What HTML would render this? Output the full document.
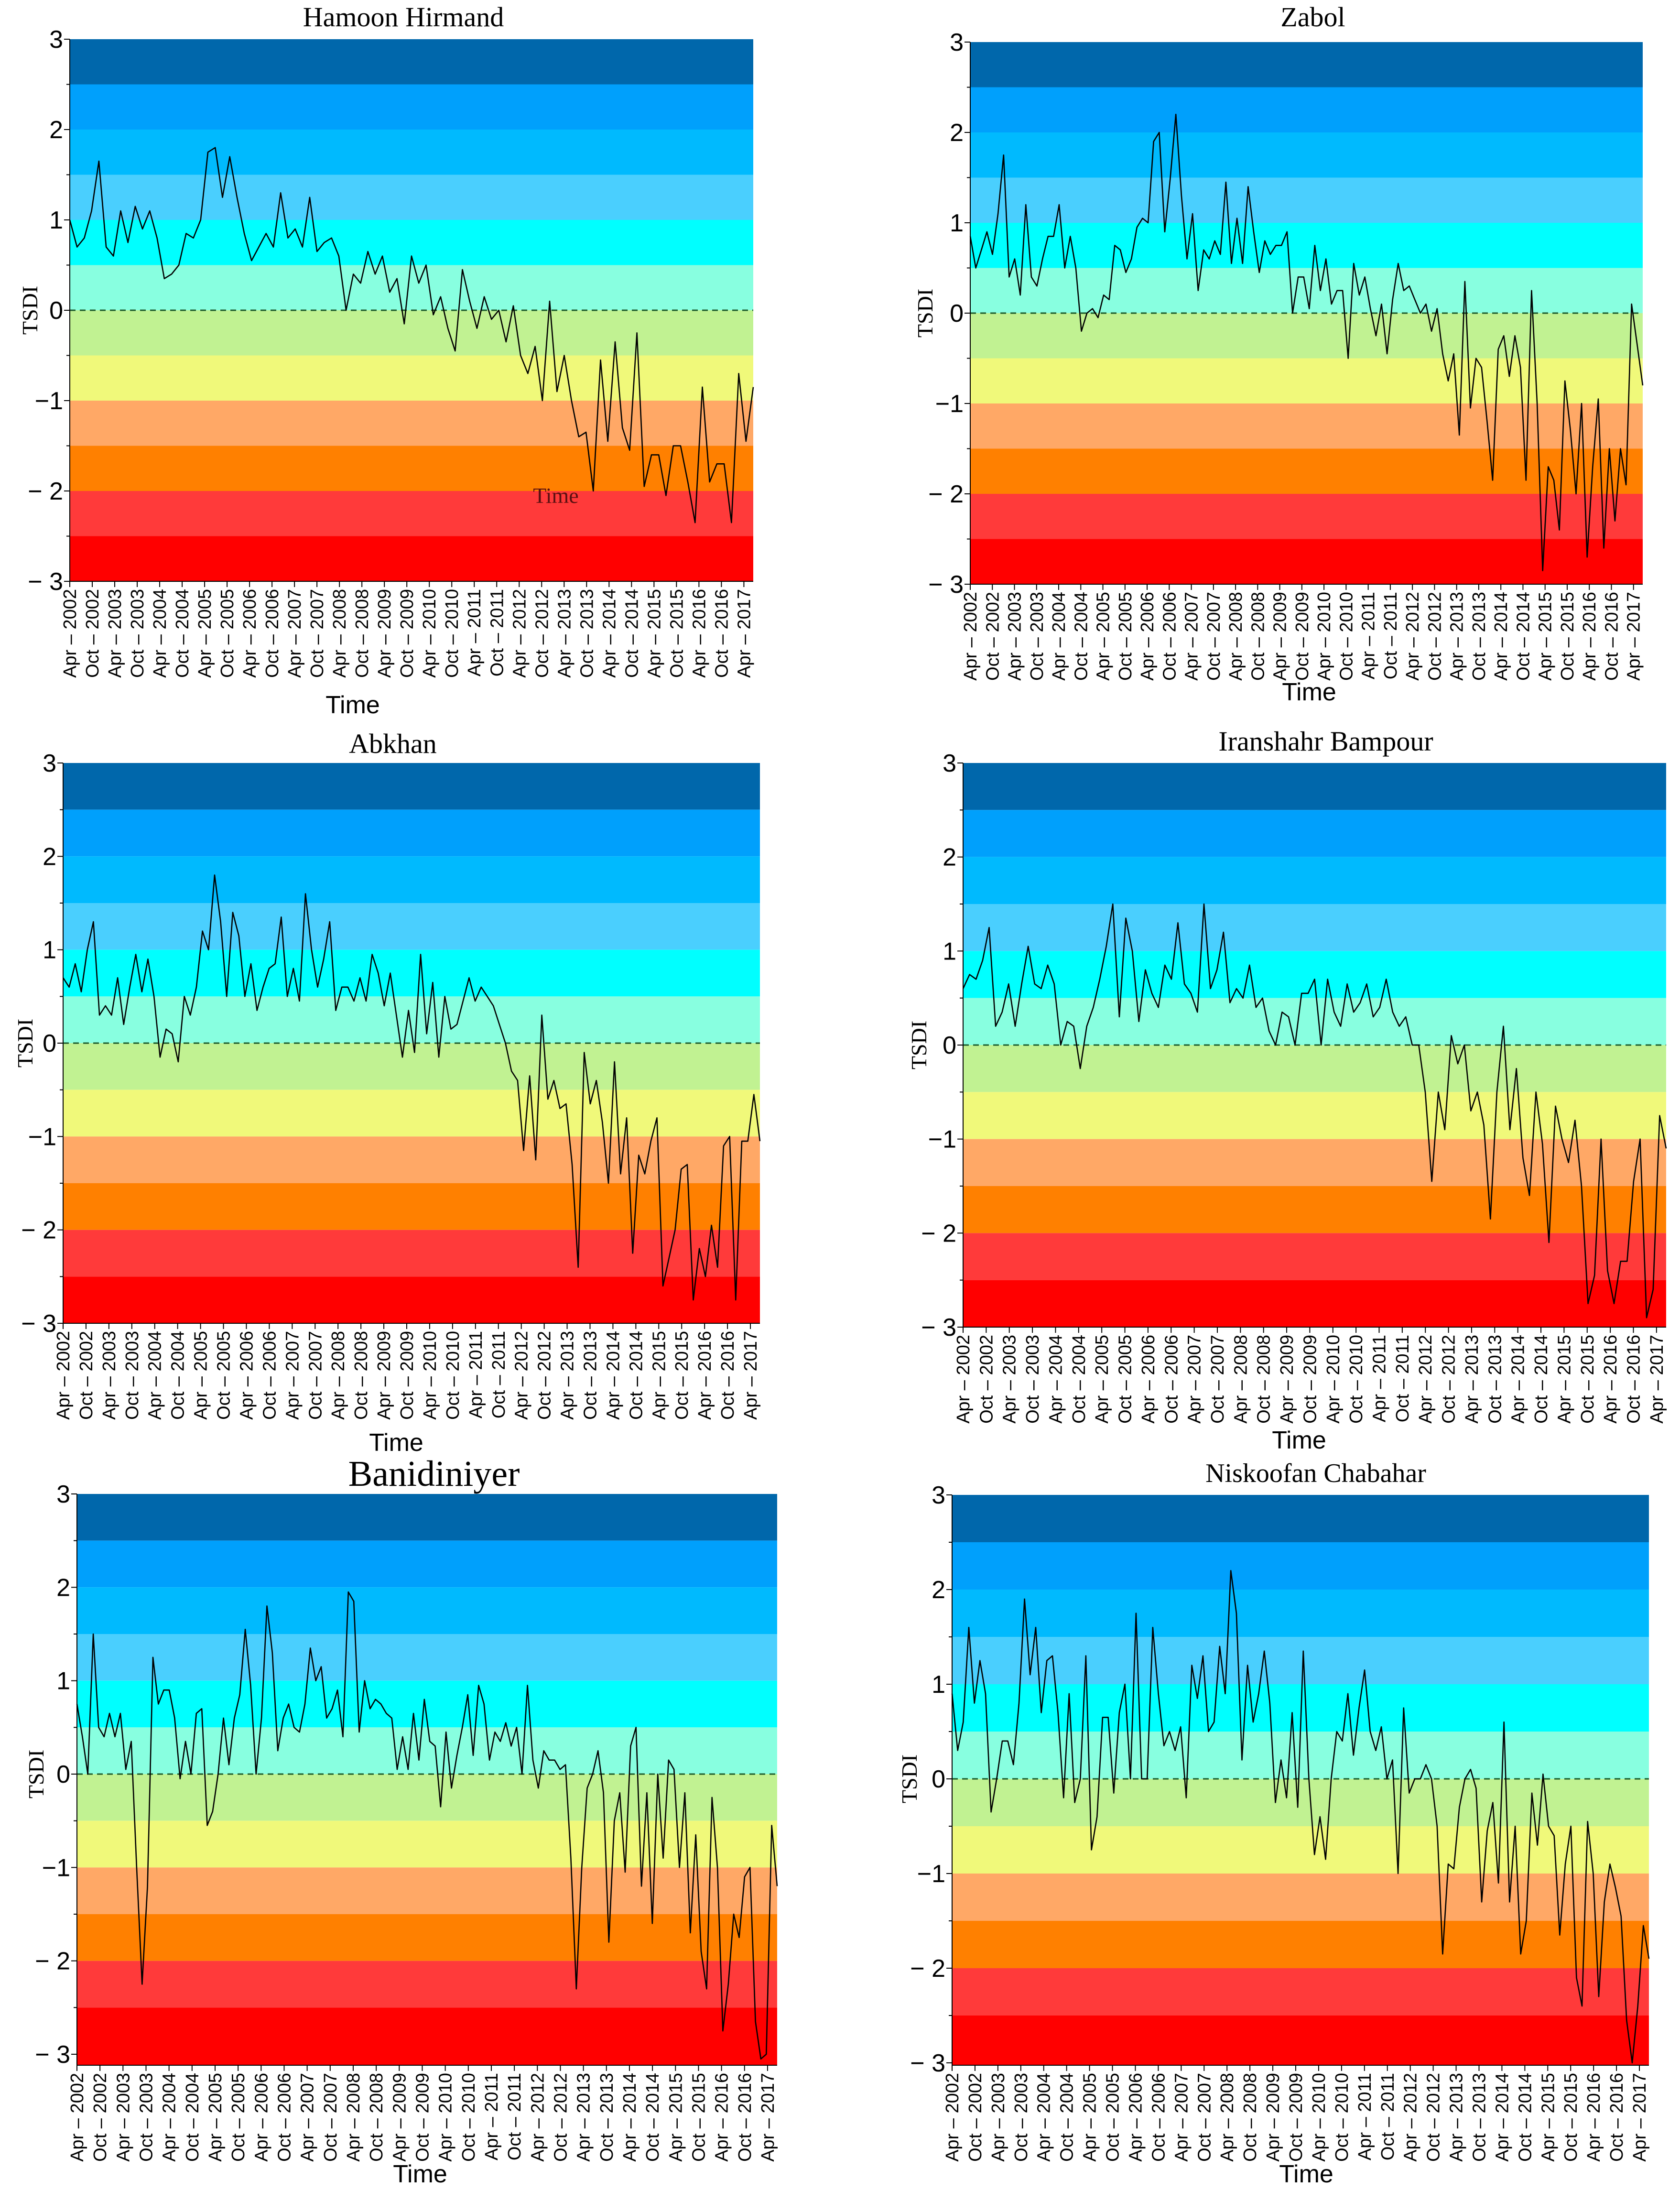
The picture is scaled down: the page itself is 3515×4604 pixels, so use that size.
<!DOCTYPE html>
<html><head><meta charset="utf-8"><style>
html,body{margin:0;padding:0;background:#fff;}
svg{display:block;}
</style></head><body>
<svg id="fig" xmlns="http://www.w3.org/2000/svg" width="3515" height="4604" viewBox="0 0 3515 4604"></svg>
<script>
const seriesHamoon=[1.0,0.7,0.8,1.1,1.65,0.7,0.6,1.1,0.75,1.15,0.9,1.1,0.8,0.35,0.4,0.5,0.85,0.8,1.0,1.75,1.8,1.25,1.7,1.25,0.85,0.55,0.7,0.85,0.7,1.3,0.8,0.9,0.7,1.25,0.65,0.75,0.8,0.6,0.0,0.4,0.3,0.65,0.4,0.6,0.2,0.35,-0.15,0.6,0.3,0.5,-0.05,0.15,-0.2,-0.45,0.45,0.1,-0.2,0.15,-0.1,0.0,-0.35,0.05,-0.5,-0.7,-0.4,-1.0,0.1,-0.9,-0.5,-1.0,-1.4,-1.35,-2.0,-0.55,-1.45,-0.35,-1.3,-1.55,-0.25,-1.95,-1.6,-1.6,-2.05,-1.5,-1.5,-1.9,-2.35,-0.85,-1.9,-1.7,-1.7,-2.35,-0.7,-1.45,-0.85];
const seriesZabol=[0.85,0.5,0.7,0.9,0.65,1.1,1.75,0.4,0.6,0.2,1.2,0.4,0.3,0.6,0.85,0.85,1.2,0.5,0.85,0.5,-0.2,0.0,0.05,-0.05,0.2,0.15,0.75,0.7,0.45,0.6,0.95,1.05,1.0,1.9,2.0,0.9,1.5,2.2,1.3,0.6,1.1,0.25,0.7,0.6,0.8,0.65,1.45,0.55,1.05,0.55,1.4,0.9,0.45,0.8,0.65,0.75,0.75,0.9,0.0,0.4,0.4,0.05,0.75,0.25,0.6,0.1,0.25,0.25,-0.5,0.55,0.2,0.4,0.05,-0.25,0.1,-0.45,0.15,0.55,0.25,0.3,0.15,0.0,0.1,-0.2,0.05,-0.45,-0.75,-0.45,-1.35,0.35,-1.05,-0.5,-0.6,-1.2,-1.85,-0.4,-0.25,-0.7,-0.25,-0.6,-1.85,0.25,-1.0,-2.85,-1.7,-1.85,-2.4,-0.75,-1.3,-2.0,-1.0,-2.7,-1.7,-0.95,-2.6,-1.5,-2.3,-1.5,-1.9,0.1,-0.35,-0.8];
const seriesAbkhan=[0.7,0.6,0.85,0.55,1.0,1.3,0.3,0.4,0.3,0.7,0.2,0.6,0.95,0.55,0.9,0.5,-0.15,0.15,0.1,-0.2,0.5,0.3,0.6,1.2,1.0,1.8,1.3,0.5,1.4,1.15,0.5,0.85,0.35,0.6,0.8,0.85,1.35,0.5,0.8,0.45,1.6,1.0,0.6,0.9,1.3,0.35,0.6,0.6,0.45,0.7,0.45,0.95,0.75,0.4,0.75,0.3,-0.15,0.35,-0.1,0.95,0.1,0.65,-0.15,0.5,0.15,0.2,0.45,0.7,0.45,0.6,0.5,0.4,0.2,0.0,-0.3,-0.4,-1.15,-0.35,-1.25,0.3,-0.6,-0.4,-0.7,-0.65,-1.3,-2.4,-0.1,-0.65,-0.4,-0.85,-1.5,-0.2,-1.4,-0.8,-2.25,-1.2,-1.4,-1.05,-0.8,-2.6,-2.3,-2.0,-1.35,-1.3,-2.75,-2.2,-2.5,-1.95,-2.4,-1.1,-1.0,-2.75,-1.05,-1.05,-0.55,-1.05];
const seriesIranshahr=[0.6,0.75,0.7,0.9,1.25,0.2,0.35,0.65,0.2,0.65,1.05,0.65,0.6,0.85,0.65,0.0,0.25,0.2,-0.25,0.2,0.4,0.7,1.05,1.5,0.3,1.35,1.0,0.25,0.8,0.55,0.4,0.85,0.7,1.3,0.65,0.55,0.35,1.5,0.6,0.8,1.2,0.45,0.6,0.5,0.85,0.4,0.5,0.15,0.0,0.35,0.3,0.0,0.55,0.55,0.7,0.0,0.7,0.35,0.2,0.65,0.35,0.45,0.65,0.3,0.4,0.7,0.35,0.2,0.3,0.0,0.0,-0.5,-1.45,-0.5,-0.9,0.1,-0.2,0.0,-0.7,-0.5,-0.85,-1.85,-0.5,0.2,-0.9,-0.25,-1.2,-1.6,-0.5,-1.05,-2.1,-0.65,-1.0,-1.25,-0.8,-1.5,-2.75,-2.45,-1.0,-2.4,-2.75,-2.3,-2.3,-1.45,-1.0,-2.9,-2.6,-0.75,-1.1];
const seriesBanidiniyer=[0.75,0.4,0.0,1.5,0.5,0.4,0.65,0.4,0.65,0.05,0.35,-1.0,-2.25,-1.2,1.25,0.75,0.9,0.9,0.6,-0.05,0.35,0.0,0.65,0.7,-0.55,-0.4,0.0,0.6,0.1,0.6,0.85,1.55,0.95,0.0,0.6,1.8,1.3,0.25,0.6,0.75,0.5,0.45,0.75,1.35,1.0,1.15,0.6,0.7,0.9,0.4,1.95,1.85,0.45,1.0,0.7,0.8,0.75,0.65,0.6,0.05,0.4,0.05,0.65,0.15,0.8,0.35,0.3,-0.35,0.45,-0.15,0.2,0.5,0.85,0.2,0.95,0.75,0.15,0.45,0.35,0.55,0.3,0.5,0.0,0.95,0.15,-0.15,0.25,0.15,0.15,0.05,0.1,-0.9,-2.3,-1.0,-0.15,0.0,0.25,-0.2,-1.8,-0.5,-0.2,-1.05,0.3,0.5,-1.2,-0.2,-1.6,0.0,-0.9,0.15,0.05,-1.0,-0.2,-1.7,-0.65,-1.9,-2.3,-0.25,-1.0,-2.75,-2.25,-1.5,-1.75,-1.1,-1.0,-2.65,-3.05,-3.0,-0.55,-1.2];
const seriesNiskoofan=[0.9,0.3,0.6,1.6,0.8,1.25,0.9,-0.35,0.0,0.4,0.4,0.15,0.8,1.9,1.1,1.6,0.7,1.25,1.3,0.7,-0.2,0.9,-0.25,0.0,1.3,-0.75,-0.4,0.65,0.65,-0.15,0.7,1.0,0.0,1.75,0.0,0.0,1.6,0.9,0.35,0.5,0.3,0.55,-0.2,1.2,0.85,1.3,0.5,0.6,1.4,0.9,2.2,1.75,0.2,1.2,0.6,0.9,1.35,0.8,-0.25,0.2,-0.2,0.7,-0.3,1.35,0.0,-0.8,-0.4,-0.85,0.0,0.5,0.4,0.9,0.25,0.75,1.15,0.5,0.3,0.55,0.0,0.2,-1.0,0.75,-0.15,0.0,0.0,0.15,0.0,-0.5,-1.85,-0.9,-0.95,-0.3,0.0,0.1,-0.1,-1.3,-0.55,-0.25,-1.1,0.6,-1.3,-0.5,-1.85,-1.5,-0.15,-0.7,0.05,-0.5,-0.6,-1.65,-0.9,-0.5,-2.1,-2.4,-0.45,-1.0,-2.3,-1.3,-0.9,-1.15,-1.45,-2.55,-3.0,-2.4,-1.55,-1.9];
const yTickValues=[3,2,1,0,-1,-2,-3];
const yTickLabels=["3","2","1","0","\u22121","\u2212 2","\u2212 3"];
const xTickLabels=[];
for(let y=2002;y<=2017;y++){xTickLabels.push("Apr \u2013 "+y);if(y<2017)xTickLabels.push("Oct \u2013 "+y);}
const bandEdges=[3,2.5,2,1.5,1,0.5,0,-0.5,-1,-1.5,-2,-2.5,-3];
const bandColors=["#0067ab","#00a0fc","#00bafe","#4acffe","#00ffff","#88ffe0","#c1f292","#f0f97a","#ffa866","#ff8000","#ff3a3a","#ff0000"];
const panels=[
 {name:"hamoon-hirmand",title:"Hamoon Hirmand",data:seriesHamoon,x0:146,x1:1576,yTop:82,yBot:1216,pBot:1216,tx:844,ty:55,tf:58,tsans:false,timeX:738,timeY:1492,tsdiX:62},
 {name:"zabol",title:"Zabol",data:seriesZabol,x0:2030,x1:3437,yTop:88,yBot:1222,pBot:1222,tx:2747,ty:55,tf:58,tsans:false,timeX:2739,timeY:1465,tsdiX:1935},
 {name:"abkhan",title:"Abkhan",data:seriesAbkhan,x0:132,x1:1590,yTop:1596,yBot:2768,pBot:2768,tx:822,ty:1575,tf:58,tsans:false,timeX:829,timeY:3035,tsdiX:52},
 {name:"iranshahr-bampour",title:"Iranshahr Bampour",data:seriesIranshahr,x0:2015,x1:3486,yTop:1596,yBot:2776,pBot:2776,tx:2774,ty:1570,tf:58,tsans:false,timeX:2718,timeY:3030,tsdiX:1922},
 {name:"banidiniyer",title:"Banidiniyer",data:seriesBanidiniyer,x0:161,x1:1626,yTop:3125,yBot:4297,pBot:4320,tx:908,ty:3108,tf:76,tsans:false,timeX:879,timeY:4565,tsdiX:75},
 {name:"niskoofan-chabahar",title:"Niskoofan Chabahar",data:seriesNiskoofan,x0:1992,x1:3450,yTop:3127,yBot:4315,pBot:4320,tx:2753,ty:3100,tf:56,tsans:false,timeX:2733,timeY:4565,tsdiX:1902}
];
const NS="http://www.w3.org/2000/svg";
const svg=document.getElementById("fig");
function mk(tag,attrs,parent){const e=document.createElementNS(NS,tag);for(const k in attrs)e.setAttribute(k,attrs[k]);parent.appendChild(e);return e;}
const XMAX=182.5;
panels.forEach(p=>{
 const g=mk("g",{},svg);
 
 
 const ys=v=>p.yTop+(3-v)/6*(p.yBot-p.yTop);
 const xs=m=>p.x0+m/XMAX*(p.x1-p.x0);
 for(let i=0;i<bandColors.length;i++){
  const top=ys(bandEdges[i]);
  const bot=(i===bandColors.length-1)?p.pBot:ys(bandEdges[i+1]);
  const r=mk("rect",{x:p.x0,y:top,width:p.x1-p.x0,height:bot-top,fill:bandColors[i]},g);
  
  
 }
 const zl=mk("line",{x1:p.x0,x2:p.x1,y1:ys(0),y2:ys(0),stroke:"#1a5a2a","stroke-width":3,"stroke-dasharray":"12 9"},g);
 
 
 const n=p.data.length;
 let d="";
 p.data.forEach((v,i)=>{d+=(i?"L":"M")+xs(i/(n-1)*XMAX).toFixed(1)+","+ys(v).toFixed(1);});
 const ln=mk("path",{d:d,fill:"none",stroke:"#000","stroke-width":2.6,"stroke-linejoin":"round"},g);
 
 
 // axes
 const ax=mk("line",{x1:p.x0,x2:p.x0,y1:p.yTop,y2:p.pBot,stroke:"#000","stroke-width":2},g);
 
 
 const bx=mk("line",{x1:p.x0,x2:p.x1,y1:p.pBot,y2:p.pBot,stroke:"#000","stroke-width":2},g);
 
 
 for(let v=3;v>=-3;v-=0.5){
  const major=Number.isInteger(v);
  mk("line",{x1:p.x0-(major?12:7),x2:p.x0,y1:ys(v),y2:ys(v),stroke:"#000","stroke-width":2},g);
 }
 yTickValues.forEach((v,i)=>{
  const t=mk("text",{x:p.x0-14,y:ys(v)+18,"text-anchor":"end","font-family":"Liberation Sans, sans-serif","font-size":52},g);
  t.textContent=yTickLabels[i];
  
  
 });
 xTickLabels.forEach((lab,i)=>{
  const x=xs(i*6);
  mk("line",{x1:x,x2:x,y1:p.pBot,y2:p.pBot+12,stroke:"#000","stroke-width":2},g);
  const t=mk("text",{x:0,y:0,"text-anchor":"end","font-family":"Liberation Sans, sans-serif","font-size":38,transform:"translate("+(x+13)+","+(p.pBot+16)+") rotate(-90)"},g);
  t.textContent=lab;
  
  
 });
 const ti=mk("text",{x:p.tx,y:p.ty,"text-anchor":"middle","font-family":"Liberation Serif, serif","font-size":p.tf},g);
 ti.textContent=p.title;
 
 
 const tm=mk("text",{x:p.timeX,y:p.timeY,"text-anchor":"middle","font-family":"Liberation Sans, sans-serif","font-size":52},g);
 tm.textContent="Time";
 
 
 const ty=ys(0);
 const ts=mk("text",{x:0,y:0,"text-anchor":"middle","font-family":"Liberation Serif, serif","font-size":46,transform:"translate("+(p.tsdiX+16)+","+ty+") rotate(-90)"},g);
 ts.textContent="TSDI";
 
 
});
const stray=mk("text",{x:1163,y:1052,"text-anchor":"middle","font-family":"Liberation Serif, serif","font-size":46,fill:"#5a1010"},svg);
stray.textContent="Time";


</script>
</body></html>
